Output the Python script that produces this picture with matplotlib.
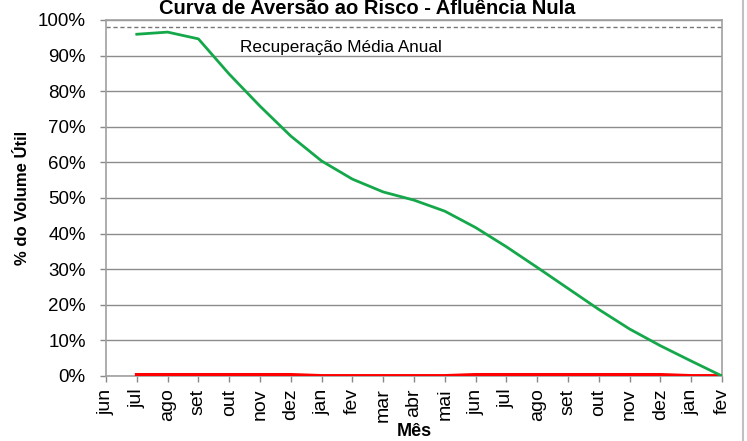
import matplotlib
matplotlib.use("Agg")
import matplotlib.pyplot as plt
from matplotlib.lines import Line2D

plt.rcParams['font.family'] = ['Liberation Sans', 'DejaVu Sans']

months = ["jun", "jul", "ago", "set", "out", "nov", "dez", "jan", "fev", "mar", "abr",
          "mai", "jun", "jul", "ago", "set", "out", "nov", "dez", "jan", "fev"]
curva_aversao = [96.0, 96.6, 94.7, 84.8, 75.8, 67.4, 60.4, 55.3, 51.7, 49.4, 46.3,
                 41.7, 36.3, 30.5, 24.6, 18.7, 13.2, 8.5, 4.2, 0.0]
afluencia_min = [0.3, 0.3, 0.3, 0.3, 0.3, 0.3, 0.0, 0.0, 0.0, 0.0, 0.0,
                 0.3, 0.3, 0.3, 0.3, 0.3, 0.3, 0.3, 0.0, 0.0]
recuperacao_media = 98.0
yticks = [0, 10, 20, 30, 40, 50, 60, 70, 80, 90, 100]

fig = plt.figure(figsize=(7.47, 4.41), dpi=100)
ax = fig.add_axes([106/747, 1-376/441, (722-106)/747, (376-20)/441])

x = list(range(1, len(curva_aversao) + 1))
ax.axhline(recuperacao_media, color="#777777", lw=1.0, ls=(0, (3, 2)), zorder=2)
ax.plot(x, curva_aversao, color="#14a84a", lw=2.0, zorder=4, solid_joinstyle="round")
ax.plot(x, afluencia_min, color="#ff0000", lw=2.8, zorder=3)

ax.set_xlim(0, len(months) - 1)
ax.set_ylim(0, 100)
ax.set_yticks(yticks)
ax.set_yticklabels([f"{v}%" for v in yticks], fontsize=13.5)
ax.set_xticks(range(len(months)))
ax.set_xticklabels(months, rotation=90, fontsize=14)
ax.tick_params(axis="both", direction="out", length=4.5, color="#888888", width=1)
ax.tick_params(axis="y", pad=10)
ax.tick_params(axis="x", pad=4.5)
ax.grid(axis="y", color="#8c8c8c", lw=1.0)
ax.set_axisbelow(True)
for s in ax.spines.values():
    s.set_color("#a0a0a0")
    s.set_linewidth(1.2)

ax.text(4.35, 92.4, "Recuperação Média Anual", fontsize=12.3, va="center", ha="left")

fig.text(23/747, 1-198/441, "% do Volume Útil", fontsize=12, fontweight="bold",
         rotation=90, ha="center", va="center")
fig.text(414/747, 1-432/441, "Mês", fontsize=13, fontweight="bold", ha="center", va="center")
fig.text(367/747, 1-8/441, "Curva de Aversão ao Risco - Afluência Nula", fontsize=14.5,
         fontweight="bold", ha="center", va="center")

fig.add_artist(Line2D([743/747, 743/747], [0, 1], transform=fig.transFigure,
                      color="#c0c0c0", lw=1.5))

fig.savefig("out.png", dpi=100)
